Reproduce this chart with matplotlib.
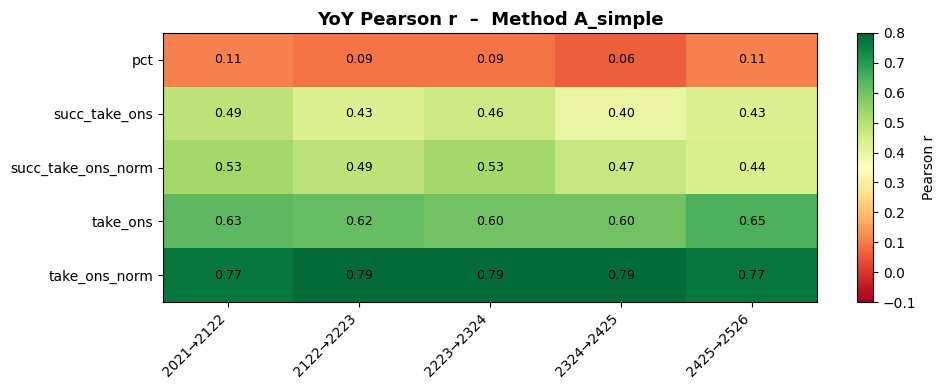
import numpy as np
import matplotlib.pyplot as plt

# --- Data ---
features = ["pct", "succ_take_ons", "succ_take_ons_norm", "take_ons", "take_ons_norm"]
seasons = ["2021→2122", "2122→2223", "2223→2324", "2324→2425", "2425→2526"]

pct = [0.11, 0.09, 0.09, 0.06, 0.11]
succ_take_ons = [0.49, 0.43, 0.46, 0.40, 0.43]
succ_take_ons_norm = [0.53, 0.49, 0.53, 0.47, 0.44]
take_ons = [0.63, 0.62, 0.60, 0.60, 0.65]
take_ons_norm = [0.77, 0.79, 0.79, 0.79, 0.77]

corr = np.array([pct, succ_take_ons, succ_take_ons_norm, take_ons, take_ons_norm])

# --- Figure ---
fig = plt.figure(figsize=(9.43, 3.9), dpi=100)
ax = fig.add_axes([163 / 943, 88 / 390, 654 / 943, 269 / 390])
cax = fig.add_axes([857 / 943, 88 / 390, 16 / 943, 269 / 390])

im = ax.imshow(corr, cmap="RdYlGn", vmin=-0.1, vmax=0.8, aspect="auto")

for i in range(len(features)):
    for j in range(len(seasons)):
        ax.text(j, i, f"{corr[i, j]:.2f}", ha="center", va="center", fontsize=9)

ax.set_xticks(range(len(seasons)))
ax.set_xticklabels(seasons, rotation=45, ha="right")
ax.set_yticks(range(len(features)))
ax.set_yticklabels(features)
ax.set_title("YoY Pearson r  –  Method A_simple", fontsize=13, fontweight="bold")

cbar = fig.colorbar(im, cax=cax)
cbar.set_label("Pearson r")
cbar.set_ticks(np.arange(-0.1, 0.81, 0.1))

fig.savefig("out.png", dpi=100)
